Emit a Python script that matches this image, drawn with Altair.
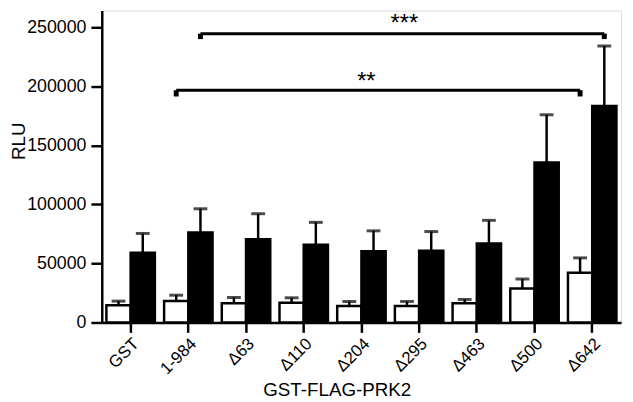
import altair as alt
import pandas as pd

categories = ["GST", "1-984", "Δ63", "Δ110", "Δ204", "Δ295", "Δ463", "Δ500", "Δ642"]
groups = ["white", "black"]
white_mean = [14500, 18100, 16200, 16750, 13900, 13900, 16200, 28700, 42100]
white_top = [18100, 23100, 21200, 20900, 17800, 17800, 19500, 36800, 54700]
black_mean = [59100, 76200, 70400, 65800, 60300, 60800, 67000, 135500, 183400]
black_top = [75400, 96300, 92100, 84800, 77600, 77000, 86500, 175900, 234200]
y_ticks = [0, 50000, 100000, 150000, 200000, 250000]

bracket_names = ["**", "***"]
bracket_from_cat = ["1-984", "1-984"]
bracket_to_cat = ["Δ642", "Δ642"]
bracket_group = ["white", "black"]
bracket_y = [196700, 244600]
bracket_drop = [191400, 240000]
star_y = [203600, 252600]
star_cat = ["Δ204", "Δ295"]

rows = []
for i, c in enumerate(categories):
    rows.append({"cat": c, "grp": "white", "mean": white_mean[i], "top": white_top[i]})
    rows.append({"cat": c, "grp": "black", "mean": black_mean[i], "top": black_top[i]})
df = pd.DataFrame(rows)

brow = []
srow = []
for i, n in enumerate(bracket_names):
    brow.append({"b": n, "cat": bracket_from_cat[i], "grp": bracket_group[i], "y": bracket_y[i], "ord": 0})
    brow.append({"b": n, "cat": bracket_to_cat[i], "grp": bracket_group[i], "y": bracket_y[i], "ord": 1})
    srow.append({"b": n, "cat": bracket_from_cat[i], "grp": bracket_group[i], "y": bracket_y[i], "y0": bracket_drop[i]})
    srow.append({"b": n, "cat": bracket_to_cat[i], "grp": bracket_group[i], "y": bracket_y[i], "y0": bracket_drop[i]})
bdf = pd.DataFrame(brow)
sdf = pd.DataFrame(srow)
tdf = pd.DataFrame({"label": bracket_names, "cat": star_cat, "y": star_y})

FONT = "Liberation Sans"

xenc = alt.X(
    "cat:N",
    sort=categories,
    scale=alt.Scale(domain=categories, paddingInner=0.16, paddingOuter=0.08),
    axis=alt.Axis(
        title="GST-FLAG-PRK2",
        labelAngle=-45,
        labelFontSize=17,
        labelFont=FONT,
        labelColor="black",
        labelPadding=3,
        tickSize=10,
        tickWidth=2.5,
        tickColor="black",
        domainWidth=2.5,
        domainColor="black",
        titleFont=FONT,
        titleFontSize=19,
        titleFontWeight="normal",
        titleColor="black",
        titleX=238,
        titleY=68,
        titleBaseline="middle",
    ),
)
xoff = alt.XOffset("grp:N", sort=groups, scale=alt.Scale(domain=groups))
yscale = alt.Scale(domain=[0, 264200], nice=False, zero=True)
yenc = alt.Y(
    "mean:Q",
    scale=yscale,
    axis=alt.Axis(
        title="RLU",
        values=y_ticks,
        format="d",
        grid=False,
        labelFontSize=18,
        labelFont=FONT,
        labelColor="black",
        labelPadding=5,
        tickSize=11,
        tickWidth=2.5,
        tickColor="black",
        domainWidth=2.5,
        domainColor="black",
        titleFont=FONT,
        titleFontSize=19,
        titleFontWeight="normal",
        titleColor="black",
        titleX=-84,
        titleY=132,
        titleBaseline="middle",
    ),
)

bars = alt.Chart(df).mark_bar(stroke="black", strokeWidth=2.5).encode(
    x=xenc,
    xOffset=xoff,
    y=yenc,
    fill=alt.Fill("grp:N", scale=alt.Scale(domain=groups, range=["white", "black"]), legend=None),
)

err = alt.Chart(df).mark_rule(color="black", strokeWidth=2.5).encode(
    x="cat:N", xOffset="grp:N", y="mean:Q", y2="top:Q"
)
caps = alt.Chart(df).mark_tick(color="black", size=14, thickness=3, orient="horizontal").encode(
    x="cat:N", xOffset="grp:N", y="top:Q"
)

blines = alt.Chart(bdf).mark_line(color="black", strokeWidth=3).encode(
    x="cat:N", xOffset="grp:N", y="y:Q", detail="b:N", order="ord:Q"
)
stubs = alt.Chart(sdf).mark_rule(color="black", strokeWidth=5).encode(
    x="cat:N", xOffset="grp:N", y="y0:Q", y2="y:Q"
)

t1 = alt.Chart(tdf[tdf["label"] == "**"]).mark_text(
    font=FONT, fontSize=24, color="black", baseline="middle", dx=5
).encode(x="cat:N", y="y:Q", text="label:N")
t2 = alt.Chart(tdf[tdf["label"] == "***"]).mark_text(
    font=FONT, fontSize=24, color="black", baseline="middle", dx=-15
).encode(x="cat:N", y="y:Q", text="label:N")

chart = alt.layer(bars, err, caps, blines, stubs, t1, t2).properties(
    width=526,
    height=316,
    autosize=alt.AutoSizeParams(type="none"),
    padding={"left": 95, "top": 0, "right": 4, "bottom": 78},
).configure_view(stroke="black", strokeWidth=2.5).configure(background="white")

chart.save("out.html", embed_options={"renderer": "svg", "actions": False})
